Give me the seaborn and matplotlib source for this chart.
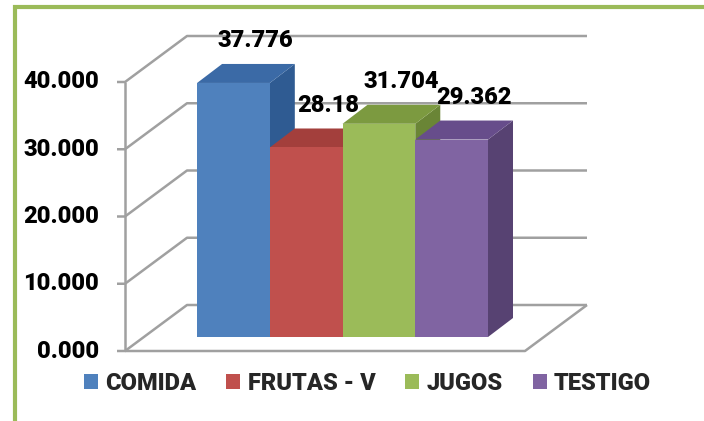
import matplotlib
matplotlib.use('Agg')
import matplotlib.pyplot as plt
from matplotlib.patches import Polygon, Rectangle
import seaborn as sns

sns.set_style('white')
plt.rcParams['font.family'] = ['Roboto', 'DejaVu Sans']
plt.rcParams['font.weight'] = 'heavy'

# data
categories = ['COMIDA', 'FRUTAS - V', 'JUGOS', 'TESTIGO']
values = [37.776, 28.18, 31.704, 29.362]
value_labels = ['37.776', '28.18', '31.704', '29.362']
y_ticks = [0, 10, 20, 30, 40]
y_tick_labels = ['0.000', '10.000', '20.000', '30.000', '40.000']

front_colors = ['#4F81BD', '#C0504D', '#9BBB59', '#8064A2']
top_colors = ['#3B6AA6', '#A33F3C', '#7C9A40', '#674D8B']
side_colors = ['#2F5B92', '#8C3533', '#6A8536', '#574272']
grid_color = '#A0A0A0'
txt_weight = 'heavy'

fig = plt.figure(figsize=(7.04, 4.21), dpi=100)
# axes = the plane where the bar fronts sit
ax = fig.add_axes([144 / 704, 84 / 421, 400 / 704, 269 / 421])
sns.barplot(x=categories, y=values, hue=categories, palette=front_colors,
            width=1, saturation=1, linewidth=0, ax=ax, legend=True)
handles, labels = ax.get_legend_handles_labels()
if ax.get_legend() is not None:
    ax.get_legend().remove()
ax.set_xlim(-1.23, 4.27)
ax.set_ylim(0, 40)
ax.axis('off')

# pixel -> data unit conversion for the fake 3d depth
p0 = ax.transData.transform((0, 0))
p1 = ax.transData.transform((1, 1))
sx, sy = p1[0] - p0[0], p1[1] - p0[1]


def px(dx, dy):
    return dx / sx, dy / sy


fdx, fdy = px(-19, -14)   # front plane (axis labels)
bdx, bdy = px(43, 32)     # back wall
ddx, ddy = px(25, 19)     # bar depth
tick_len, _ = px(8, 0)
xl, xr = ax.get_xlim()

line_kw = dict(color=grid_color, lw=1.8, clip_on=False, zorder=1,
               solid_capstyle='butt')

### walls and gridlines
for v, lab in zip(y_ticks, y_tick_labels):
    ax.plot([xl + fdx - tick_len, xl + fdx, xl + bdx, xr + bdx],
            [v + fdy, v + fdy, v + bdy, v + bdy], **line_kw)
    ax.text(xl + fdx - px(26, 0)[0], v + fdy, lab, ha='right', va='center',
            fontsize=17, fontweight=txt_weight, color='black')
ax.plot([xl + fdx, xl + fdx], [y_ticks[0] + fdy, y_ticks[-1] + fdy], **line_kw)
ax.plot([xl + fdx, xr + fdx, xr + bdx], [fdy, fdy, bdy], **line_kw)

### bars with top and side faces
bars = [b for c in ax.containers for b in c if b.get_height() > 0]
bars = sorted(bars, key=lambda p: p.get_x())
for i, bar in enumerate(bars):
    x0 = bar.get_x()
    x1 = x0 + bar.get_width()
    h = bar.get_height()
    side = Polygon([(x1, 0), (x1, h), (x1 + ddx, h + ddy), (x1 + ddx, ddy)],
                   closed=True, facecolor=side_colors[i], edgecolor='none',
                   zorder=2 + 2 * i, clip_on=False)
    top = Polygon([(x0, h), (x1, h), (x1 + ddx, h + ddy), (x0 + ddx, h + ddy)],
                  closed=True, facecolor=top_colors[i], edgecolor='none',
                  zorder=2 + 2 * i, clip_on=False)
    ax.add_patch(side)
    ax.add_patch(top)
    bar.set_zorder(3 + 2 * i)
    bar.set_clip_on(False)
    cx = (x0 + x1) / 2 + ddx - px(3, 0)[0]
    ax.text(cx, h + ddy + px(0, 23)[1], value_labels[i], ha='center',
            va='center', fontsize=17, fontweight=txt_weight, color='black',
            zorder=20)

fig.legend(handles, labels, loc='center', bbox_to_anchor=(0.522, 0.09), ncol=4,
           frameon=False, handlelength=0.6, handleheight=0.6,
           handletextpad=0.3, columnspacing=1.27,
           prop={'weight': txt_weight, 'size': 17})

# green frame, cut off on the right and bottom like the source
fig.patches.append(Rectangle((15 / 704, -0.2), 1.5, 1.2 - 7 / 421,
                             transform=fig.transFigure, fill=False,
                             edgecolor='#9BBB59', lw=3))

fig.savefig('out.png', dpi=100)
